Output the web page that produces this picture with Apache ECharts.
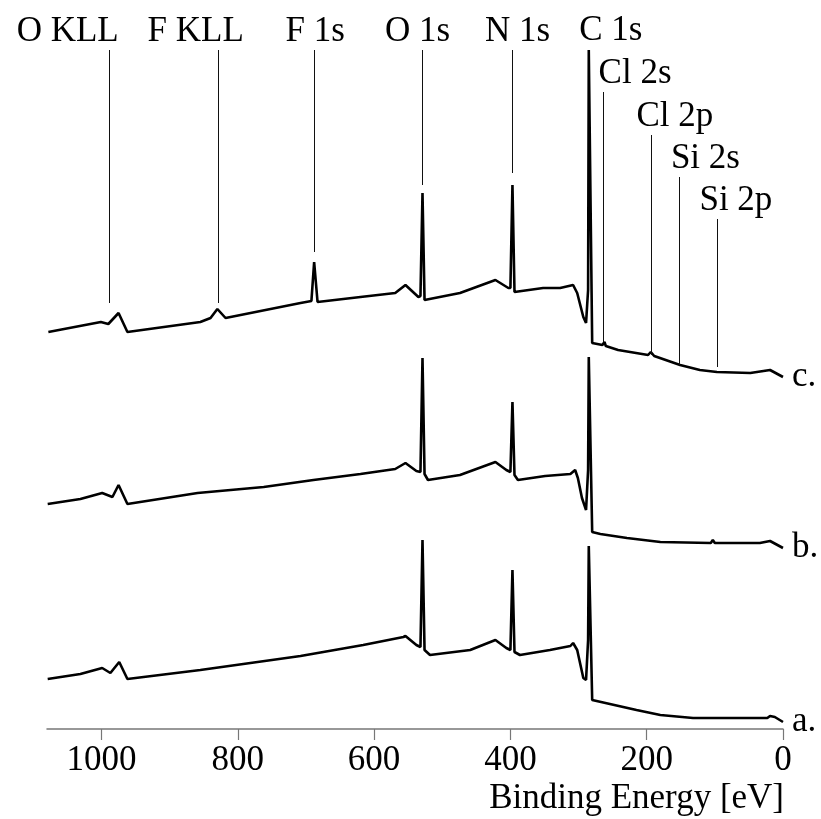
<!DOCTYPE html>
<html>
<head>
<meta charset="utf-8">
<title>XPS survey spectra</title>
<script src="https://cdn.jsdelivr.net/npm/echarts@6.0.0/dist/echarts.min.js"></script>
<style>
  html, body { margin: 0; padding: 0; background: #fff; }
  #xps { width: 821px; height: 819px; }
</style>
</head>
<body>
<div id="xps"></div>
<script>
// binding energy [eV] and intensity (arb. units, traces stacked with an offset)
const energyA = [1079, 1031, 999, 987, 974, 962, 855, 708, 616, 557, 554, 538, 532, 529, 526, 518, 459, 422, 406, 400, 397, 394, 386, 342, 312, 308, 302, 293, 289, 286, 285, 280, 254, 215, 180, 132, 82, 23, 19, 12, 0];
const countsA = [50, 55, 61, 56, 67, 50, 59, 73, 84, 92, 93, 84, 82, 189, 79, 74, 79, 89, 81, 79, 159, 77, 74, 79, 83, 86, 79, 51, 49, 89, 183, 29, 25, 19, 14, 11, 11, 11, 13, 12, 7];

const energyB = [1079, 1031, 999, 984, 975, 962, 859, 762, 689, 620, 569, 554, 538, 532, 529, 526, 521, 474, 422, 406, 400, 397, 394, 389, 349, 312, 305, 301, 295, 289, 286, 285, 280, 268, 229, 180, 106, 103, 100, 34, 19, 0];
const countsB = [225, 230, 236, 232, 244, 225, 236, 242, 249, 255, 260, 266, 258, 257, 371, 255, 249, 254, 267, 259, 257, 327, 254, 249, 253, 255, 259, 251, 231, 219, 259, 372, 197, 195, 191, 187, 186, 189, 186, 186, 188, 181];

const energyC = [1078, 1001, 990, 975, 962, 855, 840, 830, 818, 708, 692, 688, 683, 620, 569, 554, 535, 532, 529, 526, 525, 474, 422, 403, 400, 397, 394, 352, 327, 308, 302, 293, 289, 286, 285, 280, 265, 262, 260, 242, 198, 194, 189, 151, 122, 97, 48, 19, 0];
const countsC = [397, 407, 405, 416, 397, 407, 411, 420, 411, 426, 428, 467, 427, 432, 436, 444, 432, 433, 536, 429, 428, 436, 449, 441, 441, 544, 437, 441, 441, 444, 436, 412, 406, 439, 679, 386, 384, 387, 383, 379, 374, 377, 373, 364, 359, 357, 356, 359, 352];

const traceLabels = ['a.', 'b.', 'c.'];

// peak assignments with their leader lines (energy, top and bottom in intensity units)
const peakNames = ['O KLL', 'F KLL', 'F 1s', 'O 1s', 'N 1s', 'C 1s', 'Cl 2s', 'Cl 2p', 'Si 2s', 'Si 2p'];
const peakEnergies = [988, 828, 688, 529, 397, 285, 264, 194, 152, 97];
const leaderTop = [679, 679, 679, 679, 679, 680, 637, 594, 552, 510];
const leaderBottom = [426, 426, 477, 544, 556, 679, 387, 374, 364, 362];

const tickValues = [0, 200, 400, 600, 800, 1000];

// layout only: horizontal shift of each peak label relative to its line
const labelShift = [-42, -23, 1, -5, 5, 22, 32, 24, 26, 19];
const endLabelPad = [[0, 0, 14, 9], [12, 0, 0, 9], [0, 0, 14, 9]];

const FONT = 'Liberation Serif';

let chartXps = echarts.init(document.getElementById('xps'));

const zip = (xs, ys) => xs.map((x, i) => [x, ys[i]]);

const leaders = peakNames.map((name, i) => {
    const s = labelShift[i];
    return [
        {
            name: name,
            coord: [peakEnergies[i], leaderBottom[i]],
            label: { padding: s >= 0 ? [0, 0, 0, 2 * s] : [0, -2 * s, 0, 0] },
            // C 1s has no leader, only its label above the peak
            lineStyle: name === 'C 1s' ? { width: 0, color: 'rgba(0,0,0,0)' } : {}
        },
        { coord: [peakEnergies[i], leaderTop[i]] }
    ];
});

const traces = [zip(energyA, countsA), zip(energyB, countsB), zip(energyC, countsC)];

const option = {
    animation: false,
    title: {
        text: 'Binding Energy [eV]',
        right: 37,
        top: 781,
        padding: 0,
        textStyle: { fontFamily: FONT, fontSize: 35, fontWeight: 'normal', color: '#000' }
    },
    grid: {
        left: 47,
        right: 38,
        top: 29,
        bottom: 90,
        outerBoundsMode: 'none'
    },
    xAxis: {
        type: 'value',
        inverse: true,
        min: 0,
        max: 1080,
        interval: 200,
        splitLine: { show: false },
        axisLine: { lineStyle: { color: '#777', width: 1.5 } },
        axisTick: { length: 11, customValues: tickValues, lineStyle: { color: '#777', width: 1.2 } },
        axisLabel: {
            customValues: tickValues,
            formatter: v => String(v),
            margin: 14,
            fontFamily: FONT,
            fontSize: 35,
            color: '#000'
        }
    },
    yAxis: {
        type: 'value',
        min: 0,
        max: 700,
        show: false
    },
    series: traces.map((d, i) => ({
        name: traceLabels[i],
        type: 'line',
        data: d,
        symbol: 'none',
        silent: true,
        lineStyle: { color: '#000', width: 2.6 },
        endLabel: {
            show: true,
            formatter: traceLabels[i],
            align: 'left',
            distance: 0,
            padding: endLabelPad[i],
            fontFamily: FONT,
            fontSize: 35,
            color: '#000'
        },
        markLine: i === 2 ? {
            silent: true,
            symbol: ['none', 'none'],
            animation: false,
            lineStyle: { color: '#111', width: 1, type: 'solid' },
            label: {
                position: 'end',
                distance: 1,
                formatter: '{b}',
                fontFamily: FONT,
                fontSize: 35,
                color: '#000'
            },
            emphasis: { disabled: true },
            data: leaders
        } : undefined
    }))
};

option && chartXps.setOption(option);
window.addEventListener('resize', chartXps.resize);
</script>
</body>
</html>
